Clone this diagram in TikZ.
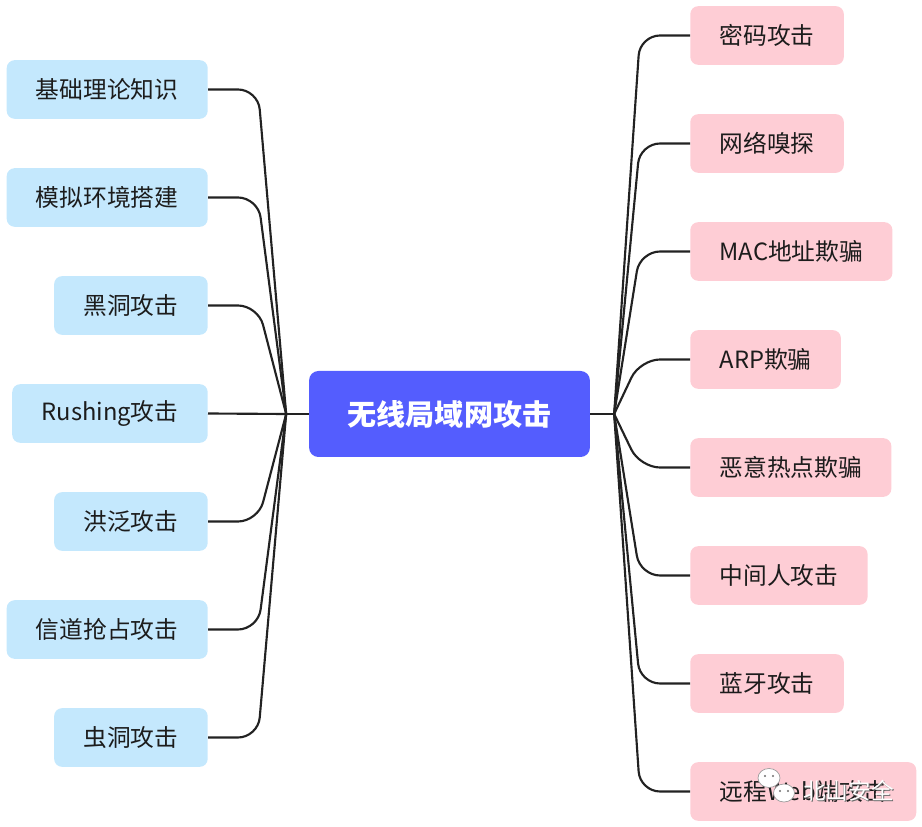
\documentclass[tikz,border=0pt]{standalone}
\usepackage{fontspec}
\setmainfont{Noto Sans CJK SC}
\usepackage{xcolor}
\usepackage{tikz}
\usetikzlibrary{positioning,calc}
\definecolor{rootblue}{HTML}{545DFE}
\definecolor{leafblue}{HTML}{C4E8FD}
\definecolor{leafpink}{HTML}{FECDD5}
\definecolor{inkdark}{HTML}{1C1C1C}
\definecolor{linkdark}{HTML}{222222}
\definecolor{markgrey}{HTML}{6E6E6E}

\begin{document}
\begin{tikzpicture}[x=0.75pt,y=-0.75pt,
  rootbox/.style={fill=rootblue,text=white,font=\bfseries\fontsize{21.8}{25}\selectfont,rounded corners=7pt,minimum height=64.5pt,inner xsep=29pt,inner ysep=0pt},
  leafbox/.style={text=inkdark,font=\fontsize{17.8}{20}\selectfont,rounded corners=6pt,minimum height=44pt,inner xsep=22pt,inner ysep=0pt},
  lbox/.style={leafbox,fill=leafblue,anchor=east},
  rbox/.style={leafbox,fill=leafpink,anchor=west},
  link/.style={draw=linkdark,line width=1.6pt,rounded corners=15pt},
  wmark/.style={font=\fontsize{17}{18}\selectfont,inner sep=0pt}]
\useasboundingbox (0,0) rectangle (922,827);
% centre
\node[rootbox] (root) at (449.5,414) {无线局域网攻击};
\coordinate (hubL) at ([xshift=-17pt]root.west);
\coordinate (hubR) at ([xshift=18pt]root.east);
\draw[link] (root.west) -- (hubL);
\draw[link] (root.east) -- (hubR);
% left branch
\node[lbox] (l1) at (208,89.5) {基础理论知识};
\node[lbox] (l2) at (208,197.5) {模拟环境搭建};
\node[lbox] (l3) at (208,305.5) {黑洞攻击};
\node[lbox] (l4) at (208,413.5) {Rushing攻击};
\node[lbox] (l5) at (208,521.5) {洪泛攻击};
\node[lbox] (l6) at (208,629.5) {信道抢占攻击};
\node[lbox] (l7) at (208,737.5) {虫洞攻击};
\draw[link] (hubL) -- ([xshift=37.5pt]l1.east) -- (l1.east);
\draw[link] (hubL) -- ([xshift=37.5pt]l2.east) -- (l2.east);
\draw[link] (hubL) -- ([xshift=37.5pt]l3.east) -- (l3.east);
\draw[link] (hubL) -- (l4.east);
\draw[link] (hubL) -- ([xshift=37.5pt]l5.east) -- (l5.east);
\draw[link] (hubL) -- ([xshift=37.5pt]l6.east) -- (l6.east);
\draw[link] (hubL) -- ([xshift=37.5pt]l7.east) -- (l7.east);
% right branch
\node[rbox] (r1) at (690,35.5) {密码攻击};
\node[rbox] (r2) at (690,143.5) {网络嗅探};
\node[rbox] (r3) at (690,251.5) {MAC地址欺骗};
\node[rbox] (r4) at (690,359.5) {ARP欺骗};
\node[rbox] (r5) at (690,467.5) {恶意热点欺骗};
\node[rbox] (r6) at (690,575.5) {中间人攻击};
\node[rbox] (r7) at (690,683.5) {蓝牙攻击};
\node[rbox] (r8) at (690,791.5) {远程Web端攻击};
\draw[link] (hubR) -- ([xshift=-37.5pt]r1.west) -- (r1.west);
\draw[link] (hubR) -- ([xshift=-37.5pt]r2.west) -- (r2.west);
\draw[link] (hubR) -- ([xshift=-37.5pt]r3.west) -- (r3.west);
\draw[link] (hubR) -- ([xshift=-37.5pt]r4.west) -- (r4.west);
\draw[link] (hubR) -- ([xshift=-37.5pt]r5.west) -- (r5.west);
\draw[link] (hubR) -- ([xshift=-37.5pt]r6.west) -- (r6.west);
\draw[link] (hubR) -- ([xshift=-37.5pt]r7.west) -- (r7.west);
\draw[link] (hubR) -- ([xshift=-37.5pt]r8.west) -- (r8.west);
% watermark
\fill[white,draw=markgrey!70,line width=0.5pt] (769,778) ellipse (11 and 9.5);
\fill[white,draw=markgrey!70,line width=0.5pt] (784,793) ellipse (10.5 and 9);
\fill[markgrey] (765,776) circle (1.2) (773,776) circle (1.2) (780,791) circle (1.1) (788,791) circle (1.1);
\node[wmark,text=markgrey] (wmshadow) at (849.5,791.5) {北山安全};
\node[wmark,text=white] (wmtext) at (848.5,790.5) {北山安全};
\end{tikzpicture}
\end{document}
